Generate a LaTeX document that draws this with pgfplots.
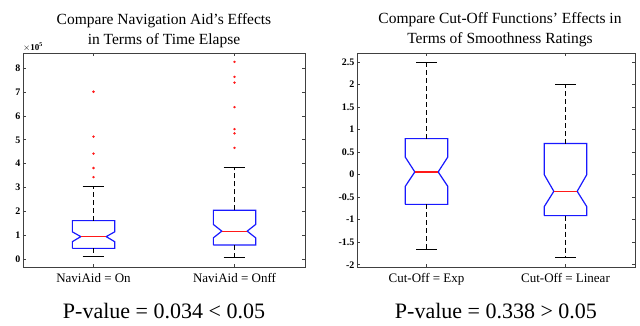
\documentclass[border=0pt]{standalone}
\usepackage{fontspec}
\setmainfont{Liberation Serif}
\usepackage{pgfplots}
\pgfplotsset{compat=1.18}
\definecolor{mblue}{rgb}{0.1,0.1,1}
\definecolor{mred}{rgb}{1,0.1,0.1}
\definecolor{frame}{rgb}{0.25,0.25,0.25}
\pgfplotsset{
  boxax/.style={
    scale only axis,
    width=280pt, height=214pt,
    xmin=0.5, xmax=2.5,
    xtick={1,2},
    axis line style={frame, line width=0.9pt},
    tick style={frame, line width=0.6pt},
    major tick length=3pt,
    tick align=inside,
    /pgf/number format/assume math mode=true,
    yticklabel style={font=\bfseries\fontsize{10}{10}\selectfont, xshift=1pt},
    xticklabel style={font=\fontsize{13}{13}\selectfont, yshift=-3pt},
    clip=false,
  },
  boxp/.style={mblue, line width=1.2pt},
  medp/.style={mred, line width=1.2pt},
  whp/.style={black, line width=1pt, dash pattern=on 5pt off 3pt},
  capp/.style={black, line width=1pt},
  outp/.style={only marks, mark=*, mark size=1pt, mred, mark options={draw=mred, fill=mred}},
}
\begin{document}
\begin{tikzpicture}[x=1pt,y=1pt]
\useasboundingbox (0,0) rectangle (640,325);
% ---------------- left
\begin{axis}[boxax, at={(23pt,58pt)}, anchor=south west, width=282pt,
  ymin=-0.32, ymax=8.63, ytick={0,1,...,8},
  xticklabels={NaviAid = On, NaviAid = Onff}]
% box 1
\addplot[boxp] coordinates {(0.85,0.46) (1.15,0.46) (1.15,0.74) (1.09,0.95) (1.15,1.15) (1.15,1.62) (0.85,1.62) (0.85,1.15) (0.91,0.95) (0.85,0.74) (0.85,0.46)};
\addplot[medp] coordinates {(0.91,0.95) (1.09,0.95)};
\addplot[whp] coordinates {(1,1.62) (1,3.05)};
\addplot[whp] coordinates {(1,0.46) (1,0.14)};
\addplot[capp] coordinates {(0.923,3.05) (1.077,3.05)};
\addplot[capp] coordinates {(0.923,0.14) (1.077,0.14)};
\addplot[outp] coordinates {(1,7.01) (1,5.13) (1,4.42) (1,3.82) (1,3.44)};
% box 2
\addplot[boxp] coordinates {(1.85,0.60) (2.15,0.60) (2.15,0.90) (2.09,1.18) (2.15,1.46) (2.15,2.05) (1.85,2.05) (1.85,1.46) (1.91,1.18) (1.85,0.90) (1.85,0.60)};
\addplot[medp] coordinates {(1.91,1.18) (2.09,1.18)};
\addplot[whp] coordinates {(2,2.05) (2,3.83)};
\addplot[whp] coordinates {(2,0.60) (2,0.08)};
\addplot[capp] coordinates {(1.923,3.83) (2.077,3.83)};
\addplot[capp] coordinates {(1.923,0.08) (2.077,0.08)};
\addplot[outp] coordinates {(2,8.26) (2,7.63) (2,7.39) (2,6.37) (2,5.45) (2,5.27) (2,4.66)};
\node[anchor=base west, font=\bfseries\fontsize{9}{9}\selectfont, inner sep=0pt] at ([yshift=3pt]rel axis cs:0,1) {$\times\mathbf{10^5}$};
\node[anchor=base, font=\fontsize{15.5}{15.5}\selectfont, inner sep=0pt] at ([yshift=29pt]rel axis cs:0.5,1) {Compare Navigation Aid’s Effects};
\node[anchor=base, font=\fontsize{15.5}{15.5}\selectfont, inner sep=0pt] at ([yshift=9pt]rel axis cs:0.5,1) {in Terms of Time Elapse};
\node[anchor=base, font=\fontsize{22}{22}\selectfont, inner sep=0pt] at ([yshift=-51pt]rel axis cs:0.5,0) {P-value = 0.034 < 0.05};
\end{axis}
% ---------------- right
\begin{axis}[boxax, at={(357pt,58pt)}, anchor=south west, width=278pt,
  ymin=-2.05, ymax=2.7, ytick={-2,-1.5,...,2.5},
  yticklabel style={/pgf/number format/fixed, /pgf/number format/precision=1},
  xticklabels={Cut-Off = Exp, Cut-Off = Linear}]
\addplot[boxp] coordinates {(0.847,-0.66) (1.153,-0.66) (1.153,-0.26) (1.084,0.06) (1.153,0.39) (1.153,0.80) (0.847,0.80) (0.847,0.39) (0.916,0.06) (0.847,-0.26) (0.847,-0.66)};
\addplot[medp] coordinates {(0.916,0.06) (1.084,0.06)};
\addplot[whp] coordinates {(1,0.80) (1,2.48)};
\addplot[whp] coordinates {(1,-0.66) (1,-1.67)};
\addplot[capp] coordinates {(0.925,2.48) (1.075,2.48)};
\addplot[capp] coordinates {(0.925,-1.67) (1.075,-1.67)};
\addplot[boxp] coordinates {(1.847,-0.91) (2.153,-0.91) (2.153,-0.71) (2.084,-0.37) (2.153,0.0) (2.153,0.69) (1.847,0.69) (1.847,0.0) (1.916,-0.37) (1.847,-0.71) (1.847,-0.91)};
\addplot[medp] coordinates {(1.916,-0.37) (2.084,-0.37)};
\addplot[whp] coordinates {(2,0.69) (2,2.0)};
\addplot[whp] coordinates {(2,-0.91) (2,-1.83)};
\addplot[capp] coordinates {(1.925,2.0) (2.075,2.0)};
\addplot[capp] coordinates {(1.925,-1.83) (2.075,-1.83)};
\node[anchor=base, font=\fontsize{15.5}{15.5}\selectfont, inner sep=0pt] at ([yshift=29pt, xshift=4pt]rel axis cs:0.5,1) {Compare Cut-Off Functions’ Effects in};
\node[anchor=base, font=\fontsize{15.5}{15.5}\selectfont, inner sep=0pt] at ([yshift=9pt, xshift=4pt]rel axis cs:0.5,1) {Terms of Smoothness Ratings};
\node[anchor=base, font=\fontsize{22}{22}\selectfont, inner sep=0pt] at ([yshift=-51pt]rel axis cs:0.5,0) {P-value = 0.338 > 0.05};
\end{axis}
\end{tikzpicture}
\end{document}
